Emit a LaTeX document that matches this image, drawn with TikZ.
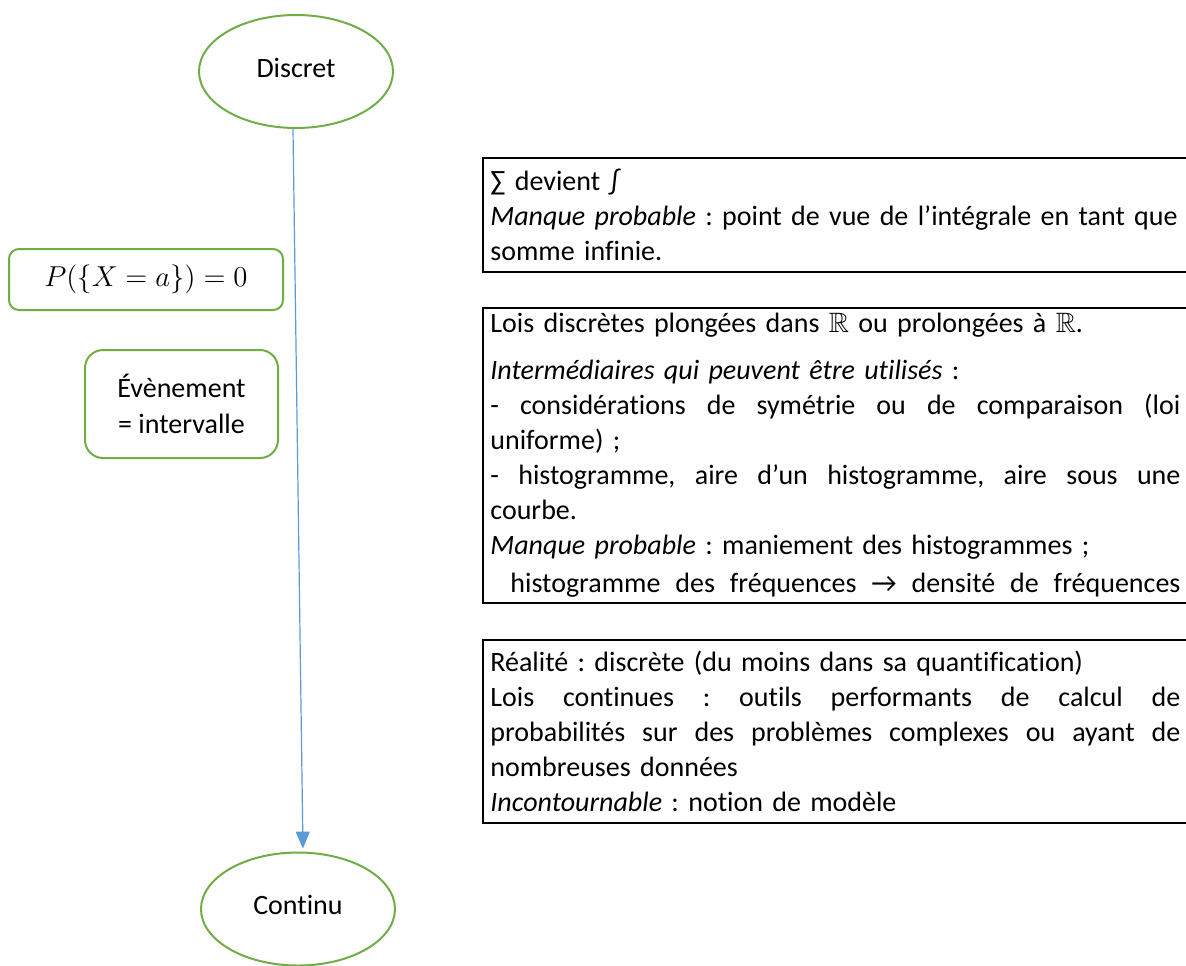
\documentclass[tikz,border=0pt]{standalone}
\usepackage{amssymb}
\usepackage{fontspec}
\setmainfont{Carlito}[Ligatures=NoCommon]
\usetikzlibrary{calc, arrows.meta, shapes.geometric}

\definecolor{vert}{HTML}{70AD47}
\definecolor{bleu}{HTML}{5B9BD5}

% ligne justifiee sur toute la largeur
\newcommand{\jline}[2][0pt]{{\spaceskip=0pt\xspaceskip=0pt\hspace*{#1}\makebox[\dimexpr\hsize-#1][s]{#2}}}
\frenchspacing

\begin{document}
\begin{tikzpicture}[x=0.5pt, y=-0.5pt,
  every node/.style={font=\fontsize{14}{17.5}\selectfont},
  etat/.style={ellipse, draw=vert, line width=1pt, minimum width=97pt, minimum height=56.5pt, inner sep=0pt},
  cadre/.style={draw=vert, line width=1pt, align=center, inner sep=0pt},
  note/.style={anchor=north west, text width=345pt, align=left, inner xsep=3.5pt, inner ysep=0pt},
  fleche/.style={bleu, line width=0.6pt, shorten >=1.5pt, -{Triangle[length=8.5pt, width=7pt]}}]
  \useasboundingbox (0,0) rectangle (1186,965);

  % les deux etats
  \node[etat] (discret) at (296,71.5) {\raisebox{4pt}{Discret}};
  \node[etat] (continu) at (298,909) {\raisebox{4.5pt}{Continu}};

  \draw[fleche] (discret.267) -- (continu.85);

  % cadres verts
  \node[cadre, rounded corners=5pt, minimum width=137pt, minimum height=30.5pt] (proba) at (146,279.5)
    {\fontsize{13.5}{17}\selectfont $P(\{X=a\})=0$};
  \node[cadre, rounded corners=9pt, minimum width=96.5pt, minimum height=54pt] (evt) at (181.5,404)
    {Évènement\\[0.5pt] = intervalle};

  % commentaires
  \node[note, minimum height=56.5pt] (somme) at (483,158) {%
    ∑ devient ∫\\
    \textit{Manque probable} : point de vue de l’intégrale en tant que\\
    somme infinie.};
  \node[note, minimum height=147pt] (lois) at (483,308) {%
    Lois discrètes plongées dans $\mathbb{R}$ ou prolongées à $\mathbb{R}$.\\[6pt]
    \textit{Intermédiaires qui peuvent être utilisés} :\\
    \jline{- considérations de symétrie ou de comparaison (loi}\\
    uniforme) ;\\
    \jline{- histogramme, aire d’un histogramme, aire sous une}\\
    courbe.\\
    \textit{Manque probable} : maniement des histogrammes ;\\[1.5pt]
    \jline[10pt]{histogramme des fréquences → densité de fréquences}};
  \node[note, minimum height=91pt] (realite) at (483,640) {%
    Réalité : discrète (du moins dans sa quantification)\\
    \jline{Lois continues : outils performants de calcul de}\\
    \jline{probabilités sur des problèmes complexes ou ayant de}\\
    nombreuses données\\
    \textit{Incontournable} : notion de modèle};

  \foreach \b in {somme, lois, realite}
    \draw[line width=1pt] (\b.north west) rectangle ($(\b.south east)+(12,0)$);
\end{tikzpicture}
\end{document}
